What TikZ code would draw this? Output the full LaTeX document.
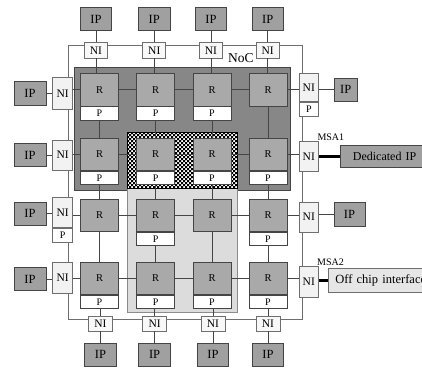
\documentclass[tikz,border=0pt]{standalone}
\usepackage{fontspec}
\setmainfont{Liberation Serif}
\definecolor{ipfill}{HTML}{A0A0A0}
\definecolor{rfill}{HTML}{A9A9A9}
\definecolor{nifill}{HTML}{F2F2F2}
\definecolor{nocfill}{HTML}{878787}
\definecolor{msfill}{HTML}{DCDCDC}
\definecolor{linec}{HTML}{454545}
\definecolor{ringc}{HTML}{6E6E6E}
\definecolor{offfill}{HTML}{E6E6E6}
\begin{document}
\begin{tikzpicture}[x=1pt,y=-1pt,
  box/.style={draw=linec, line width=0.8pt, inner sep=0pt, rectangle},
  ipbox/.style={box, fill=ipfill, minimum width=31.5pt, minimum height=23.5pt, font=\fontsize{12.5}{12.5}\selectfont},
  rbox/.style={box, fill=rfill, minimum width=38pt, minimum height=32.5pt, font=\fontsize{10.5}{10.5}\selectfont},
  pbox/.style={box, fill=white, minimum width=38pt, minimum height=13.5pt, anchor=north, font=\fontsize{10}{10}\selectfont},
  nibox/.style={box, draw=ringc, fill=nifill, font=\fontsize{11.5}{11.5}\selectfont},
  nip/.style={box, draw=ringc, fill=white, anchor=north, font=\fontsize{10}{10}\selectfont},
  link/.style={draw=linec, line width=0.8pt},
  ring/.style={draw=ringc, line width=0.8pt},
  lbl/.style={anchor=base west, inner sep=0pt},
]
\useasboundingbox (0,0) rectangle (422,367);
\clip (0,0) rectangle (422,367);
\fill[white] (0,0) rectangle (422,367);

% regions
\draw[draw=linec, fill=nocfill, line width=0.8pt] (74.3,67.3) rectangle (290,190);
\draw[draw=ringc!80, fill=msfill, line width=0.8pt] (127,188) rectangle (237,312.3);
\fill[white] (127,132) rectangle (237,188);
\begin{scope}
  \clip (127,132) rectangle (237,188);
  \fill[black] \foreach \i in {0,4,...,108}{ \foreach \j in {0,4,...,52}{
      (127+\i,132+\j) rectangle ++(2,2) (129+\i,134+\j) rectangle ++(2,2) } };
\end{scope}
\draw[black, line width=0.8pt] (127,132) rectangle (237,188);

% ring
\coordinate (ringNW) at (68.3,45.7);
\coordinate (ringSE) at (302.6,319);
\draw[ring] (ringNW) rectangle (ringSE);

% routers
\foreach \c/\x in {1/99.5,2/155.7,3/212,4/268}{
  \foreach \r/\y in {1/89.7,2/154.2,3/215.2,4/278.2}{
    \node[rbox] (r\r\c) at (\x,\y) {R};
  }
}
% processors
\foreach \n in {11,12,13,21,22,23,24,32,34,41,42,43,44}{
  \node[pbox] (p\n) at (r\n.south) {P};
}

% top IP / NI
\foreach \c/\x in {1/96,2/154.3,3/211,4/267.7}{
  \node[ipbox] (tip\c) at (\x,19) {IP};
  \node[nibox, fill=white!50!nifill, minimum width=23pt, minimum height=15.3pt] (tni\c) at (\x,50.3) {NI};
}
% bottom IP / NI
\foreach \c/\x in {1/100.4,2/154.6,3/213,4/268}{
  \node[nibox, fill=white!50!nifill, minimum width=24pt, minimum height=15pt] (bni\c) at (\x,323.5) {NI};
  \node[ipbox] (bip\c) at (\x,354.7) {IP};
}

% left IP / NI
\node[ipbox, minimum width=32pt] (lip1) at (30,93.5) {IP};
\node[ipbox, minimum width=32pt] (lip2) at (30,155) {IP};
\node[ipbox, minimum width=32pt] (lip3) at (30,213.7) {IP};
\node[ipbox, minimum width=32pt] (lip4) at (30,279) {IP};
\node[nibox, minimum width=19.6pt, minimum height=31.6pt] (lni1) at (62.6,93.5) {NI};
\node[nibox, minimum width=19.6pt, minimum height=30pt] (lni2) at (62.6,155) {NI};
\node[nibox, minimum width=19.6pt, minimum height=30pt] (lni3) at (62.6,212.7) {NI};
\node[nip, minimum width=19.6pt, minimum height=14pt] (lnp3) at (lni3.south) {P};
\node[nibox, minimum width=19.6pt, minimum height=31pt] (lni4) at (62.6,277.5) {NI};

% right NI / IP
\node[nibox, minimum width=19.5pt, minimum height=28.4pt] (rni1) at (308.8,87.5) {NI};
\node[nip, minimum width=19.5pt, minimum height=14.3pt] (rnp1) at (rni1.south) {P};
\node[nibox, minimum width=19.5pt, minimum height=30pt] (rni2) at (308.8,156.7) {NI};
\node[nibox, minimum width=19.5pt, minimum height=30pt] (rni3) at (308.8,217) {NI};
\node[nibox, minimum width=19.5pt, minimum height=30.6pt] (rni4) at (308.8,282) {NI};
\node[ipbox, minimum width=23pt, minimum height=23.5pt] (rip1) at (345.8,89.7) {IP};
\node[ipbox, minimum width=31pt, minimum height=24pt] (rip3) at (349.5,214) {IP};
\node[box, fill=ipfill, anchor=west, minimum height=22.7pt, text width=90pt, align=left, inner xsep=12.5pt,
      font=\fontsize{12}{12}\selectfont] (dip) at (340,156.3) {Dedicated IP};
\node[box, draw=ringc, fill=offfill, anchor=west, minimum height=24pt, text width=100pt, align=left, inner xsep=6.7pt,
      font=\fontsize{12.5}{12.5}\selectfont] (off) at (328.3,280.3) {Off chip interface};

% labels
\node[lbl, font=\fontsize{13.5}{13.5}\selectfont] (noc) at (228,62.5) {NoC};
\node[lbl, font=\fontsize{10}{10}\selectfont] (msa1) at (317.3,140.5) {MSA1};
\node[lbl, font=\fontsize{10}{10}\selectfont] (msa2) at (317,265) {MSA2};

% top and bottom links
\foreach \c in {1,2,3,4}{
  \draw[link] (tip\c) -- (tni\c);
  \draw[link] (tni\c.south) -- (tni\c.south |- r1\c.north);
  \draw[link] (bni\c) -- (bip\c);
  \draw[link] (bni\c.north |- p4\c.south) -- (bni\c.north);
}
% horizontal mesh links
\foreach \r in {1,2,3,4}{
  \draw[link] (r\r1) -- (r\r2);
  \draw[link] (r\r2) -- (r\r3);
  \draw[link] (r\r3) -- (r\r4);
  \draw[link] (lip\r) -- (lip\r -| lni\r.west);
  \draw[link] (lni\r.east |- r\r1) -- (r\r1);
  \draw[link] (r\r4) -- (r\r4 -| rni\r.west);
}
\draw[link] (rni1.east |- rip1) -- (rip1);
\draw[link] (rni3.east |- rip3) -- (rip3);
\draw[black, line width=2.4pt] (rni2.east |- dip) -- (dip.west);
\draw[black, line width=2.4pt] (rni4.east |- off) -- (off.west);

% vertical mesh links
\foreach \a/\b in {p11/r21,p12/r22,p13/r23,r14/r24,
                   p21/r31,p22/r32,p23/r33,p24/r34,
                   r31/r41,p32/r42,r33/r43,p34/r44}{
  \draw[link] (\a) -- (\b);
}
\end{tikzpicture}
\end{document}
